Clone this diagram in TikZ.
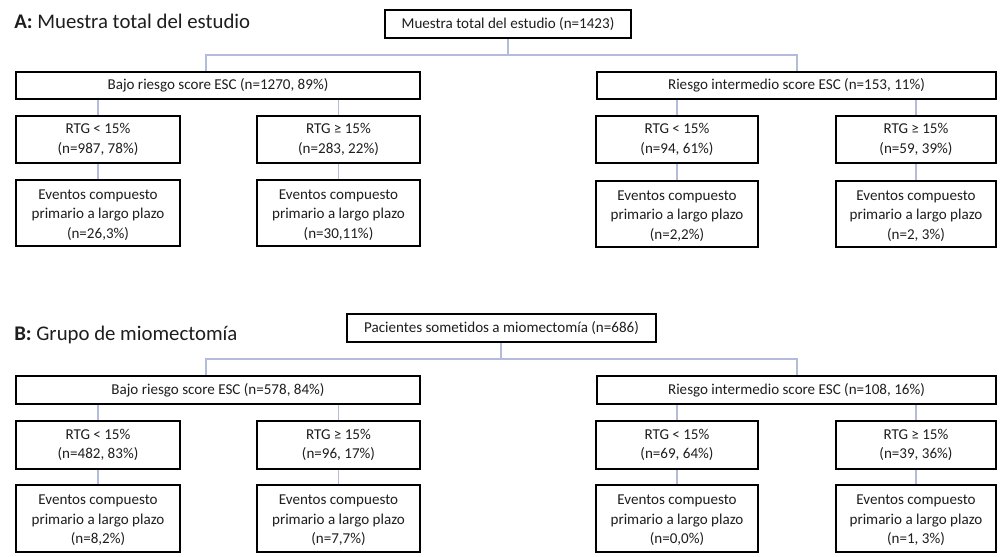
\documentclass[tikz,border=0pt]{standalone}
\usepackage{fontspec}
\setmainfont{Carlito}[Ligatures={NoCommon}]
\usetikzlibrary{fit}
\definecolor{conncol}{HTML}{B4BCDC}
\definecolor{txtcol}{HTML}{1E1E1E}
\tikzset{
  boxfont/.style={font=\fontsize{11.3pt}{14.5pt}\selectfont, text=txtcol},
  box/.style={draw=black, line width=1.8pt, inner sep=0pt, align=center, boxfont},
  boxtext/.style={inner sep=0pt, align=center, boxfont},
  conn/.style={draw=conncol, line width=0.8pt},
  paneltitle/.style={anchor=base west, inner sep=0pt, text=txtcol, font=\fontsize{15.6pt}{18pt}\selectfont}
}
\begin{document}
\begin{tikzpicture}[x=0.75pt, y=-0.75pt]
\useasboundingbox[fill=white] (0,0) rectangle (1000,557);

% ---------- Panel A ----------
\node[paneltitle] (titleA) at (14,28) {\textbf{A:} Muestra total del estudio};
\node[box, fit={(385,10) (631,38)}] (topA) {};
\node[boxtext] at (topA.center) {Muestra total del estudio (n=1423)};
\node[box, fit={(16,72) (420,99)}] (bajoA) {};
\node[boxtext] at (bajoA.center) {Bajo riesgo score ESC (n=1270, 89\%)};
\node[box, fit={(597,72) (996,99)}] (riesA) {};
\node[boxtext] at (riesA.center) {Riesgo intermedio score ESC (n=153, 11\%)};

\node[box, fit={(16,116) (180,163)}] (a1) {};
\node[box, fit={(257,116) (420,163)}] (a2) {};
\node[box, fit={(596,116) (758,163)}] (a3) {};
\node[box, fit={(836,116) (996,163)}] (a4) {};
\node[boxtext] at (a1.center) {RTG < 15\%\\(n=987, 78\%)};
\node[boxtext] at (a2.center) {RTG ≥ 15\%\\(n=283, 22\%)};
\node[boxtext] at (a3.center) {RTG < 15\%\\(n=94, 61\%)};
\node[boxtext] at (a4.center) {RTG ≥ 15\%\\(n=59, 39\%)};

\node[box, fit={(16,180) (180,246)}] (ea1) {};
\node[box, fit={(257,180) (420,246)}] (ea2) {};
\node[box, fit={(596,181) (758,247)}] (ea3) {};
\node[box, fit={(836,181) (996,247)}] (ea4) {};
\node[boxtext] at ([yshift=-1.5pt]ea1.center) {Eventos compuesto\\primario a largo plazo\\(n=26,3\%)};
\node[boxtext] at ([yshift=-1.5pt]ea2.center) {Eventos compuesto\\primario a largo plazo\\(n=30,11\%)};
\node[boxtext] at ([yshift=-1.5pt]ea3.center) {Eventos compuesto\\primario a largo plazo\\(n=2,2\%)};
\node[boxtext] at ([yshift=-1.5pt]ea4.center) {Eventos compuesto\\primario a largo plazo\\(n=2, 3\%)};

\coordinate (jA) at (508,55);
\coordinate (jAl) at (206,55);
\coordinate (jAr) at (797,55);
\draw[conn] (topA.south -| jA) -- (jA);
\draw[conn] (jAl |- bajoA.north) -- (jAl) -- (jAr) -- (jAr |- riesA.north);
\draw[conn] (bajoA.south -| a1.north) -- (a1.north);
\draw[conn] (bajoA.south -| a2.north) -- (a2.north);
\draw[conn] (riesA.south -| a3.north) -- (a3.north);
\draw[conn] (riesA.south -| a4.north) -- (a4.north);
\draw[conn] (a1.south) -- (ea1.north);
\draw[conn] (a2.south) -- (ea2.north);
\draw[conn] (a3.south) -- (ea3.north);
\draw[conn] (a4.south) -- (ea4.north);

% ---------- Panel B ----------
\node[paneltitle] (titleB) at (14,340) {\textbf{B:} Grupo de miomectomía};
\node[box, fit={(347,314) (656,342)}] (topB) {};
\node[boxtext] at (topB.center) {Pacientes sometidos a miomectomía (n=686)};
\node[box, fit={(16,376) (420,404)}] (bajoB) {};
\node[boxtext] at (bajoB.center) {Bajo riesgo score ESC (n=578, 84\%)};
\node[box, fit={(597,376) (996,404)}] (riesB) {};
\node[boxtext] at (riesB.center) {Riesgo intermedio score ESC (n=108, 16\%)};

\node[box, fit={(16,421) (180,469)}] (b1) {};
\node[box, fit={(257,421) (420,469)}] (b2) {};
\node[box, fit={(596,421) (758,469)}] (b3) {};
\node[box, fit={(836,421) (996,469)}] (b4) {};
\node[boxtext] at (b1.center) {RTG < 15\%\\(n=482, 83\%)};
\node[boxtext] at (b2.center) {RTG ≥ 15\%\\(n=96, 17\%)};
\node[boxtext] at (b3.center) {RTG < 15\%\\(n=69, 64\%)};
\node[boxtext] at (b4.center) {RTG ≥ 15\%\\(n=39, 36\%)};

\node[box, fit={(16,485) (180,552)}] (eb1) {};
\node[box, fit={(257,485) (420,552)}] (eb2) {};
\node[box, fit={(596,485) (758,552)}] (eb3) {};
\node[box, fit={(836,485) (996,552)}] (eb4) {};
\node[boxtext] at ([yshift=-1.5pt]eb1.center) {Eventos compuesto\\primario a largo plazo\\(n=8,2\%)};
\node[boxtext] at ([yshift=-1.5pt]eb2.center) {Eventos compuesto\\primario a largo plazo\\(n=7,7\%)};
\node[boxtext] at ([yshift=-1.5pt]eb3.center) {Eventos compuesto\\primario a largo plazo\\(n=0,0\%)};
\node[boxtext] at ([yshift=-1.5pt]eb4.center) {Eventos compuesto\\primario a largo plazo\\(n=1, 3\%)};

\coordinate (jB) at (501,359);
\coordinate (jBl) at (206,359);
\coordinate (jBr) at (797,359);
\draw[conn] (topB.south -| jB) -- (jB);
\draw[conn] (jBl |- bajoB.north) -- (jBl) -- (jBr) -- (jBr |- riesB.north);
\draw[conn] (bajoB.south -| b1.north) -- (b1.north);
\draw[conn] (bajoB.south -| b2.north) -- (b2.north);
\draw[conn] (riesB.south -| b3.north) -- (b3.north);
\draw[conn] (riesB.south -| b4.north) -- (b4.north);
\draw[conn] (b1.south) -- (eb1.north);
\draw[conn] (b2.south) -- (eb2.north);
\draw[conn] (b3.south) -- (eb3.north);
\draw[conn] (b4.south) -- (eb4.north);
\end{tikzpicture}
\end{document}
